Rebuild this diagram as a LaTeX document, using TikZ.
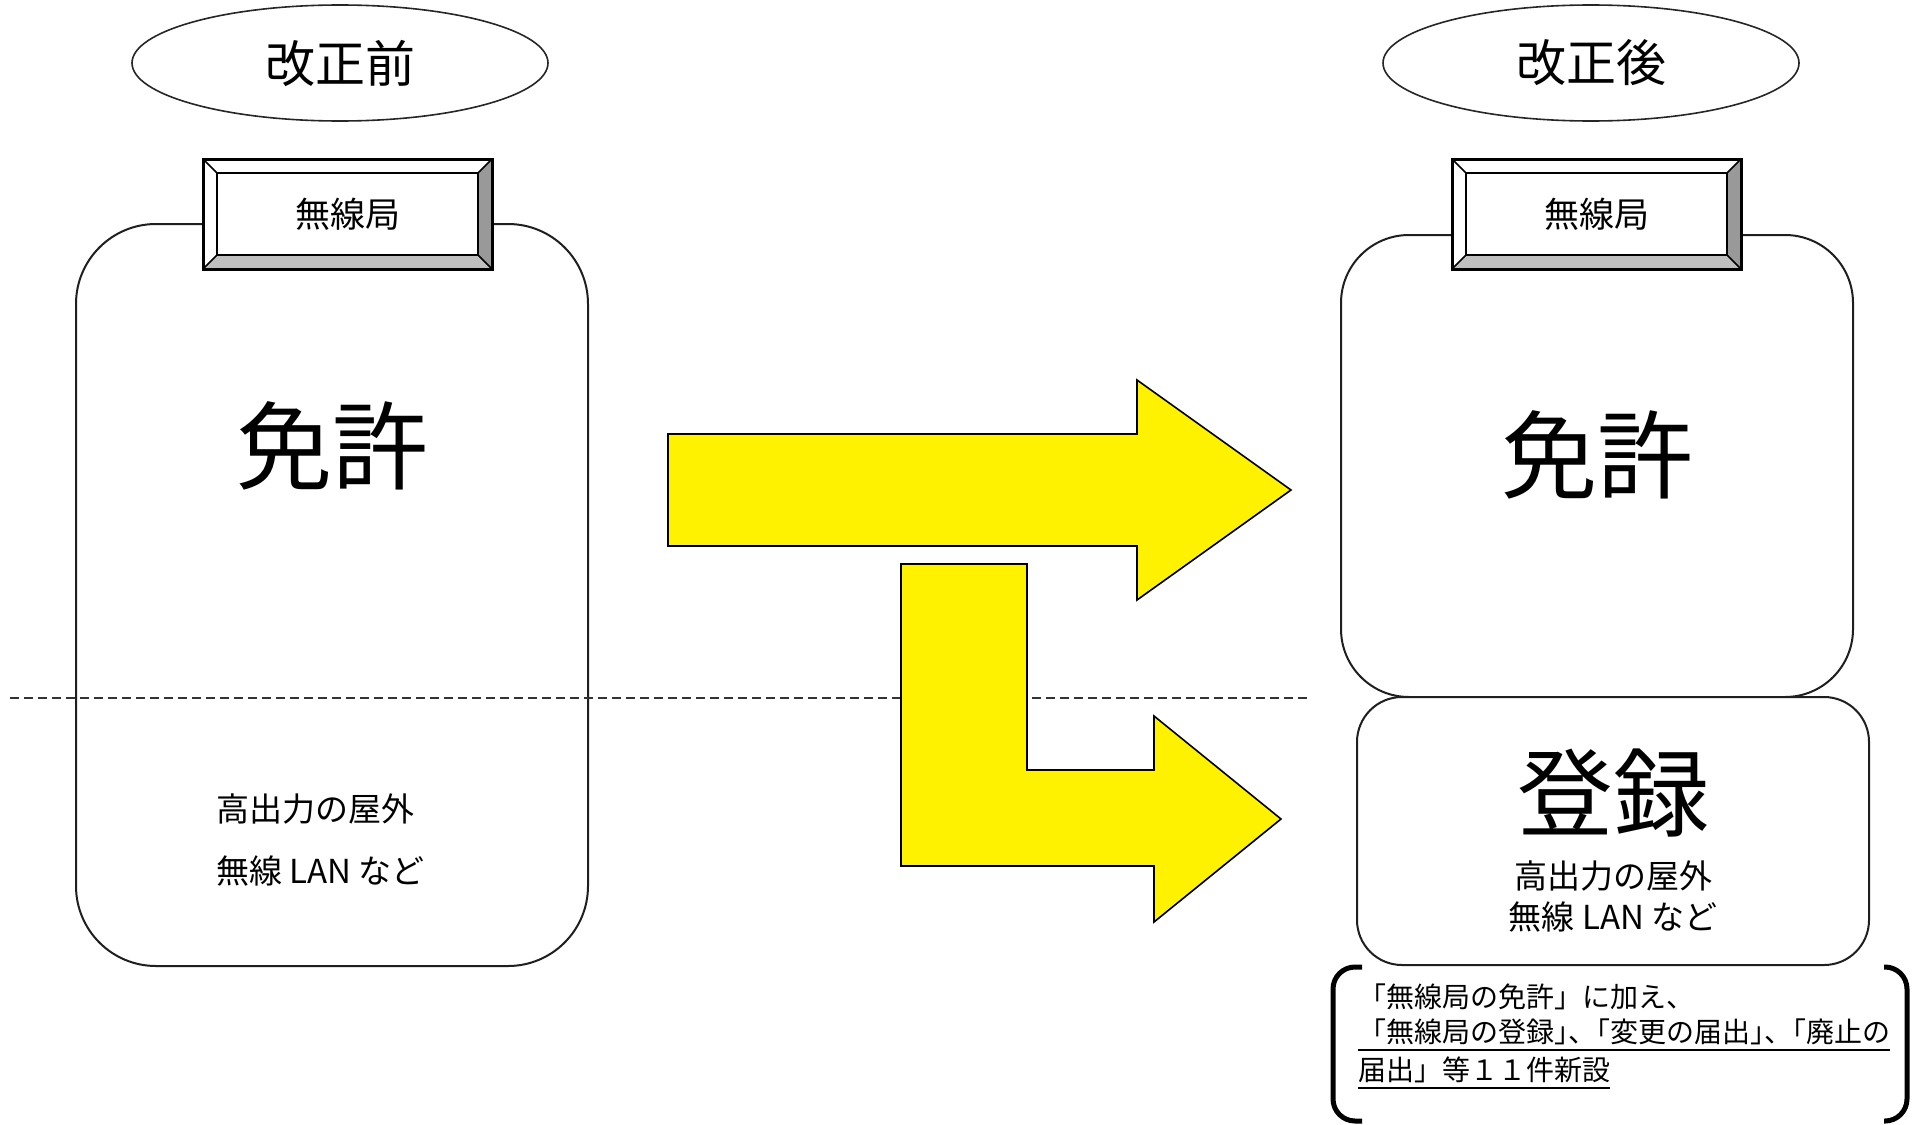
\documentclass[tikz,border=0pt]{standalone}
\usepackage{fontspec}
\setmainfont{Noto Sans CJK JP}
\usetikzlibrary{shapes.geometric}

% underlined run of text with a fixed rule below the baseline
\newcommand\ulbox[1]{\setbox0=\hbox{#1}\rlap{\rule[-8pt]{\wd0}{2pt}}\box0}

\tikzset{
  x=1pt, y=-1pt,
  panel/.style={draw=black!88, line width=2pt, fill=white, inner sep=0pt},
  titleoval/.style={ellipse, draw=black!85, line width=1.6pt, inner sep=0pt,
    minimum width=416pt, minimum height=116pt, font=\fontsize{50}{50}\selectfont},
  badgetext/.style={inner sep=0pt, font=\fontsize{35}{35}\selectfont},
  bigtext/.style={inner sep=0pt, font=\fontsize{96}{96}\selectfont},
  smalltext/.style={inner sep=0pt, font=\fontsize{33}{33}\selectfont},
  notetext/.style={inner sep=0pt, anchor=west, font=\fontsize{28}{28}\selectfont},
  blockarrow/.style={fill=yellow, draw=black, line width=1.6pt, line join=miter},
  divider/.style={draw=black!80, line width=2pt, dash pattern=on 9pt off 5pt},
  bracketline/.style={line width=5pt, rounded corners=22pt},
  pics/bevelbox/.style={code={
    \fill[white] (0,0) rectangle (289,110);
    \fill[black!40] (289,0) -- (275,14) -- (275,96) -- (289,110) -- cycle;
    \fill[black!25] (0,110) -- (14,96) -- (275,96) -- (289,110) -- cycle;
    \draw[line width=1.5pt] (0,0) -- (14,14) (289,0) -- (275,14)
                            (0,110) -- (14,96) (289,110) -- (275,96);
    \draw[line width=2pt] (14,14) rectangle (275,96);
    \draw[line width=3pt] (0,0) rectangle (289,110);
  }},
}

\begin{document}
\begin{tikzpicture}
\useasboundingbox[fill=white] (0,0) rectangle (1913,1124);

% section titles
\node[titleoval] (before) at (340,63) {改正前};
\node[titleoval] (after)  at (1591,63) {改正後};

% panels
\node[panel, rounded corners=80pt, minimum width=512pt, minimum height=742pt]
  (oldpanel) at (332,595) {};
\node[panel, rounded corners=68pt, minimum width=512pt, minimum height=462pt]
  (licpanel) at (1597,466) {};
\node[panel, rounded corners=45pt, minimum width=512pt, minimum height=268pt]
  (regpanel) at (1613,831) {};

% divider between licence and registration
\draw[divider] (10,698) -- (1308,698);

% block arrows
\draw[blockarrow] (668,434) -- (1137,434) -- (1137,380) -- (1291,490)
  -- (1137,600) -- (1137,546) -- (668,546) -- cycle;
\draw[blockarrow] (901,564) -- (1027,564) -- (1027,770) -- (1154,770)
  -- (1154,716) -- (1281,819) -- (1154,922) -- (1154,866) -- (901,866) -- cycle;

% station badges
\pic at (203,159) {bevelbox};
\node[badgetext] (badgeold) at (347.5,214) {無線局};
\pic at (1452,159) {bevelbox};
\node[badgetext] (badgenew) at (1596.5,214) {無線局};

% panel texts
\node[bigtext] (licold) at (332,446) {免許};
\node[smalltext, anchor=west] (oldline1) at (216,809) {高出力の屋外};
\node[smalltext, anchor=west] (oldline2) at (216,871) {無線 LAN など};

\node[bigtext] (licnew) at (1597,455) {免許};
\node[bigtext] (regnew) at (1613,793) {登録};
\node[smalltext] (newline1) at (1613,876) {高出力の屋外};
\node[smalltext] (newline2) at (1613,917) {無線 LAN など};

% note in brackets
\draw[bracketline] (1362,967) -- (1333,967) -- (1333,1121) -- (1362,1121);
\draw[bracketline] (1884,967) -- (1907,967) -- (1907,1121) -- (1884,1121);
\node[notetext] (note1) at (1358,997) {「無線局の免許」に加え、};
\node[notetext] (note2) at (1358,1035)
  {\ulbox{「無線局の登録」\kern-.5em、\kern-.5em「変更の届出」\kern-.5em、\kern-.5em「廃止の}};
\node[notetext] (note3) at (1358,1073) {\ulbox{届出」等１１件新設}};
\end{tikzpicture}
\end{document}
